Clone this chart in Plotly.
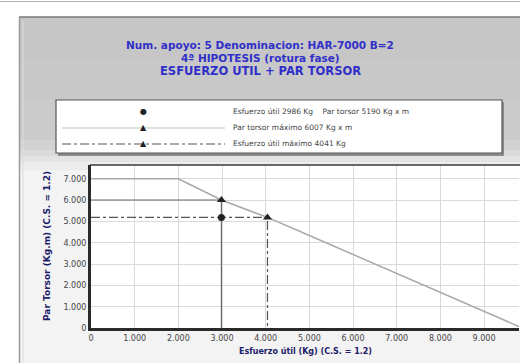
import plotly.graph_objects as go

W, H = 520, 363

# ---- data ----
curve_x = [0, 2000, 2986, 4041, 5000, 6000, 7000, 8000, 9000, 9800]
curve_y = [7000, 7000, 6007, 5190, 4340, 3450, 2560, 1670, 780, 70]

esfuerzo_util = 2986
par_torsor = 5190
par_torsor_max = 6007
esfuerzo_util_max = 4041

x_ticks = [0, 1000, 2000, 3000, 4000, 5000, 6000, 7000, 8000, 9000]
y_ticks = [0, 1000, 2000, 3000, 4000, 5000, 6000, 7000]

title_lines = [
    "Num. apoyo: 5 Denominacion: HAR-7000 B=2",
    "4ª HIPOTESIS (rotura fase)",
    "ESFUERZO UTIL + PAR TORSOR",
]
legend_texts = [
    "Esfuerzo útil 2986 Kg    Par torsor 5190 Kg x m",
    "Par torsor máximo 6007 Kg x m",
    "Esfuerzo útil máximo 4041 Kg",
]
x_title = "Esfuerzo útil (Kg) (C.S. = 1.2)"
y_title = "Par Torsor (Kg.m) (C.S. = 1.2)"


def px(x):
    return x / W


def py(y):
    return 1 - y / H


fig = go.Figure()

# capacity curve
fig.add_trace(go.Scatter(x=curve_x, y=curve_y, mode="lines",
                         line=dict(color="#a8a8a8", width=1.5), hoverinfo="skip"))
# par torsor maximo (solid) horizontal + vertical
fig.add_trace(go.Scatter(x=[0, esfuerzo_util, esfuerzo_util],
                         y=[par_torsor_max, par_torsor_max, 0], mode="lines",
                         line=dict(color="#6a6a6a", width=1.2)))
# esfuerzo util maximo (dash-dot) horizontal + vertical
fig.add_trace(go.Scatter(x=[0, esfuerzo_util_max, esfuerzo_util_max],
                         y=[par_torsor, par_torsor, 0], mode="lines",
                         line=dict(color="#555555", width=1.2, dash="dashdot")))
# markers
fig.add_trace(go.Scatter(x=[esfuerzo_util, esfuerzo_util_max], y=[par_torsor_max, par_torsor],
                         mode="markers",
                         marker=dict(symbol="triangle-up", size=8, color="#222222")))
fig.add_trace(go.Scatter(x=[esfuerzo_util], y=[par_torsor], mode="markers",
                         marker=dict(symbol="circle", size=7, color="#222222")))

shapes = []
# top strip line
shapes.append(dict(type="line", xref="paper", yref="paper", x0=0, x1=1, y0=py(1.5), y1=py(1.5),
                   line=dict(color="#b0b0b0", width=1)))
# panel gradient bands
bands = [
    (17, 60, "#c6c6c6"), (60, 100, "#c8c8c8"), (100, 140, "#cbcbcb"),
    (140, 150, "#d2d2d2"), (150, 156, "#dadada"), (156, 162, "#e4e4e4"),
    (162, 170, "#ececec"), (170, 363, "#f3f3f3"),
]
for y0, y1, c in bands:
    shapes.append(dict(type="rect", xref="paper", yref="paper", layer="below",
                       x0=px(19), x1=1, y0=py(y0), y1=py(y1),
                       fillcolor=c, line=dict(width=0)))
# white plot area
shapes.append(dict(type="rect", xref="paper", yref="paper", layer="below",
                   x0=px(91), x1=1, y0=py(165), y1=py(328),
                   fillcolor="#ffffff", line=dict(width=0)))
# panel borders
shapes.append(dict(type="line", xref="paper", yref="paper", x0=px(19), x1=1,
                   y0=py(17), y1=py(17), line=dict(color="#7a7a7a", width=1.5)))
shapes.append(dict(type="line", xref="paper", yref="paper", x0=px(19.5), x1=px(19.5),
                   y0=py(17), y1=0, line=dict(color="#9a9a9a", width=1.5)))
shapes.append(dict(type="line", xref="paper", yref="paper", x0=px(23), x1=px(23),
                   y0=py(20), y1=0, line=dict(color="#dcdcdc", width=1)))
# legend shadow and box
shapes.append(dict(type="rect", xref="paper", yref="paper",
                   x0=px(58), x1=px(504), y0=py(102), y1=py(156),
                   fillcolor="#8c8c8c", line=dict(width=0)))
shapes.append(dict(type="rect", xref="paper", yref="paper",
                   x0=px(56), x1=px(502), y0=py(100), y1=py(153),
                   fillcolor="#ffffff", line=dict(color="#555555", width=1.2)))
# legend line samples
shapes.append(dict(type="line", xref="paper", yref="paper", x0=px(62), x1=px(225),
                   y0=py(128), y1=py(128), line=dict(color="#b8c8c0", width=1.2)))
shapes.append(dict(type="line", xref="paper", yref="paper", x0=px(62), x1=px(225),
                   y0=py(144), y1=py(144), line=dict(color="#555555", width=1.2, dash="dashdot")))
# plot top border
shapes.append(dict(type="line", xref="paper", yref="paper", x0=px(90), x1=1,
                   y0=py(165), y1=py(165), line=dict(color="#3a3a3a", width=1.5)))

annotations = []
title_y = [45, 58, 71]
title_sizes = [10.5, 10.5, 11.5]
for t, yy, s in zip(title_lines, title_y, title_sizes):
    annotations.append(dict(text="<b>" + t + "</b>", xref="paper", yref="paper",
                            x=px(260), y=py(yy),
                            showarrow=False, xanchor="center", yanchor="middle",
                            font=dict(family="DejaVu Sans", size=s, color="#3030c8")))
legend_y = [111, 127, 143]
for t, yy in zip(legend_texts, legend_y):
    annotations.append(dict(text=t, xref="paper", yref="paper", x=px(231), y=py(yy),
                            showarrow=False, xanchor="left", yanchor="middle",
                            font=dict(family="DejaVu Sans", size=7.5, color="#444444")))
for sym, yy, sz in [("●", 111, 8), ("▲", 127.5, 8), ("▲", 143.5, 8)]:
    annotations.append(dict(text=sym, xref="paper", yref="paper", x=px(143), y=py(yy),
                            showarrow=False, xanchor="center", yanchor="middle",
                            font=dict(family="DejaVu Sans", size=sz, color="#222222")))
annotations.append(dict(text="<b>" + x_title + "</b>", xref="paper", yref="paper",
                        x=px(305), y=py(351), showarrow=False, xanchor="center", yanchor="middle",
                        font=dict(family="DejaVu Sans", size=8, color="#1c1c6a")))
annotations.append(dict(text="<b>" + y_title + "</b>", xref="paper", yref="paper",
                        x=px(47), y=py(246), showarrow=False, textangle=-90,
                        xanchor="center", yanchor="middle",
                        font=dict(family="DejaVu Sans", size=9, color="#1c1c6a")))

tickfont = dict(family="DejaVu Sans", size=8, color="#444444")
fig.update_layout(
    width=W, height=H,
    margin=dict(l=0, r=0, t=0, b=0),
    paper_bgcolor="#ffffff",
    plot_bgcolor="#ffffff",
    showlegend=False,
    separators=",.",
    shapes=shapes,
    annotations=annotations,
    xaxis=dict(domain=[px(91), px(519)], range=[0, 9800], tickvals=x_ticks,
               tickformat=",d", showgrid=True, gridcolor="#d9d9d9", gridwidth=1,
               zeroline=False, showline=True, linecolor="#2a2a2a", linewidth=3,
               ticks="", tickfont=tickfont, automargin=False, fixedrange=True),
    yaxis=dict(domain=[py(328), py(165)], range=[0, 7650], tickvals=y_ticks,
               tickformat=",d", showgrid=True, gridcolor="#d9d9d9", gridwidth=1,
               zeroline=False, showline=True, linecolor="#2a2a2a", linewidth=3,
               ticks="", tickfont=tickfont, automargin=False, fixedrange=True),
)

fig.write_html("out.html")
